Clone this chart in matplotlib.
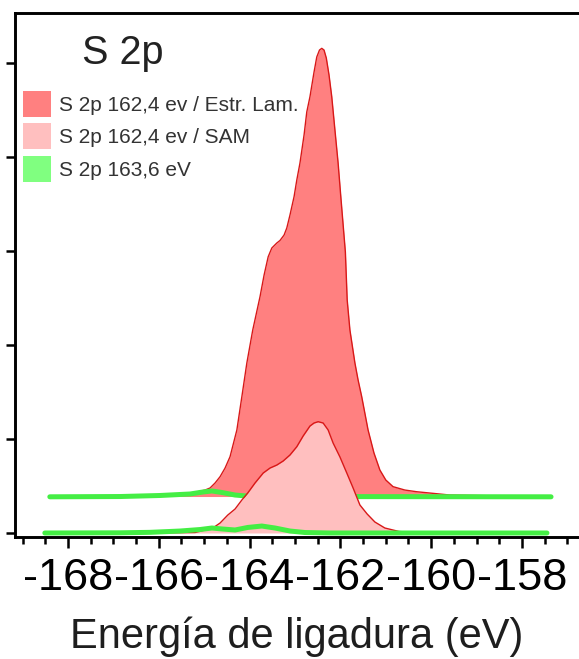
import matplotlib
matplotlib.use("Agg")
import matplotlib.pyplot as plt
from matplotlib.patches import Patch
from matplotlib.ticker import MultipleLocator, FixedLocator

plt.rcParams['font.family'] = ['Liberation Sans', 'DejaVu Sans']
plt.rcParams['axes.unicode_minus'] = False

# ---- data (binding energy shown as negative values, intensity in arb. units) ----
lam_energy = [-168.40, -167.30, -166.19, -165.53, -165.25, -164.98, -164.87, -164.76,
              -164.65, -164.54, -164.43, -164.28, -164.17, -164.06, -163.93, -163.77,
              -163.68, -163.59, -163.51, -163.40, -163.33, -163.24, -163.18, -163.11,
              -163.02, -162.96, -162.89, -162.80, -162.74, -162.67, -162.58, -162.52,
              -162.46, -162.41, -162.36, -162.31, -162.25, -162.19, -162.12, -162.05,
              -161.99, -161.93, -161.89, -161.85, -161.79, -161.68, -161.61, -161.53,
              -161.39, -161.26, -161.13, -161.00, -160.84, -160.58, -160.32, -159.59,
              -158.48, -157.36]
lam_intensity = [0.388, 0.394, 0.404, 0.417, 0.426, 0.457, 0.479, 0.532,
                 0.599, 0.691, 0.812, 1.096, 1.450, 1.809, 2.160, 2.514,
                 2.745, 2.939, 3.032, 3.085, 3.112, 3.170, 3.245, 3.383,
                 3.578, 3.755, 3.936, 4.234, 4.479, 4.641, 4.904, 5.064,
                 5.138, 5.156, 5.138, 5.053, 4.872, 4.641, 4.287, 3.936,
                 3.574, 3.223, 2.989, 2.479, 2.160, 1.809, 1.628, 1.450,
                 1.096, 0.851, 0.670, 0.564, 0.493, 0.457, 0.439, 0.404,
                 0.394, 0.388]
lam_baseline = 0.388

sam_energy = [-168.51, -166.19, -165.20, -164.81, -164.65, -164.48, -164.32, -164.17,
              -164.04, -163.88, -163.70, -163.55, -163.40, -163.26, -163.11, -162.96,
              -162.82, -162.67, -162.58, -162.49, -162.38, -162.27, -162.16, -162.01,
              -161.85, -161.72, -161.57, -161.41, -161.24, -161.02, -160.71, -160.25,
              -157.45]
sam_intensity = [0.0, 0.0, 0.005, 0.053, 0.106, 0.191, 0.255, 0.351,
                 0.426, 0.532, 0.638, 0.691, 0.723, 0.766, 0.830, 0.918,
                 1.032, 1.138, 1.170, 1.184, 1.170, 1.096, 0.957, 0.809,
                 0.628, 0.479, 0.298, 0.202, 0.117, 0.053, 0.016, 0.0,
                 0.0]
sam_baseline = 0.0

green_low_energy = [-168.51, -166.85, -166.19, -165.53, -165.09, -164.83, -164.61, -164.32,
                    -164.04, -163.73, -163.44, -163.11, -162.78, -162.23, -157.45]
green_low_intensity = [0.0, 0.002, 0.007, 0.021, 0.037, 0.053, 0.043, 0.032,
                       0.059, 0.074, 0.053, 0.021, 0.005, 0.0, 0.0]

green_up_energy = [-168.40, -166.85, -165.97, -165.31, -165.03, -164.83, -164.61, -164.32,
                   -163.99, -163.55, -157.36]
green_up_intensity = [0.385, 0.388, 0.399, 0.415, 0.436, 0.447, 0.431, 0.404,
                      0.390, 0.388, 0.385]

legend_labels = ["S 2p 162,4 ev / Estr. Lam.", "S 2p 162,4 ev / SAM", "S 2p 163,6 eV"]
xtick_values = [-168, -166, -164, -162, -160, -158]
xtick_labels = ["-168", "-166", "-164", "-162", "-160", "-158"]
ytick_values = [0, 1, 2, 3, 4, 5]

# ---- colours ----
c_lam = "#ff8080"
c_sam = "#ffbfbf"
c_edge = "#d81818"
c_green = "#44ee44"
c_green_patch = "#80ff80"

fig = plt.figure(figsize=(5.79, 6.59), dpi=100)
W, H = 579, 659
ax = fig.add_axes([15 / W, (H - 537) / H, (W - 15) / W, (537 - 13) / H])

# Estr. Lam. component (upper, offset)
ax.fill_between(lam_energy, lam_baseline, lam_intensity, color=c_lam, lw=0, zorder=1)
ax.plot(lam_energy, lam_intensity, color=c_edge, lw=1.0, zorder=2)
# upper 163.6 component
ax.plot(green_up_energy, green_up_intensity, color=c_green, lw=3.6,
        solid_capstyle='round', zorder=3)
# SAM component
ax.fill_between(sam_energy, sam_baseline, sam_intensity, color=c_sam, lw=0, zorder=4)
ax.plot(sam_energy, sam_intensity, color=c_edge, lw=1.0, zorder=5)
# lower 163.6 component
ax.plot(green_low_energy, green_low_intensity, color=c_green, lw=3.6,
        solid_capstyle='round', zorder=6)

ax.set_xlim(-169.167, -156.744)
ax.set_ylim(-0.0426, 5.532)

ax.xaxis.set_major_locator(FixedLocator(xtick_values))
ax.set_xticklabels(xtick_labels)
ax.xaxis.set_minor_locator(MultipleLocator(0.5))
ax.yaxis.set_major_locator(FixedLocator(ytick_values))
ax.set_yticklabels([])

for s in ['left', 'top', 'bottom']:
    ax.spines[s].set_linewidth(2.1)
    ax.spines[s].set_color('black')
ax.spines['right'].set_visible(False)

ax.tick_params(axis='x', which='major', direction='out', length=8, width=1.8,
               labelsize=32.5, pad=7, colors='black')
ax.tick_params(axis='x', which='minor', direction='out', length=5, width=1.8)
ax.tick_params(axis='y', which='major', direction='out', length=6.5, width=1.8)

ax.set_xlabel("Energía de ligadura (eV)", fontsize=30, color='#1e1e1e', labelpad=13)

handles = [Patch(facecolor=c_lam, edgecolor='none'),
           Patch(facecolor=c_sam, edgecolor='none'),
           Patch(facecolor=c_green_patch, edgecolor='none')]
leg = fig.legend(handles, legend_labels, loc='upper left',
                 bbox_to_anchor=(23 / W, 1 - 91 / H), frameon=False,
                 fontsize=15, handlelength=1.35, handleheight=1.55,
                 handletextpad=0.4, labelspacing=0.3, borderpad=0,
                 borderaxespad=0)
for t in leg.get_texts():
    t.set_color('#333333')

fig.text(82 / W, 1 - 64 / H, "S 2p", fontsize=28.5, color='#222222',
         ha='left', va='baseline')

fig.savefig("out.png", dpi=100)
